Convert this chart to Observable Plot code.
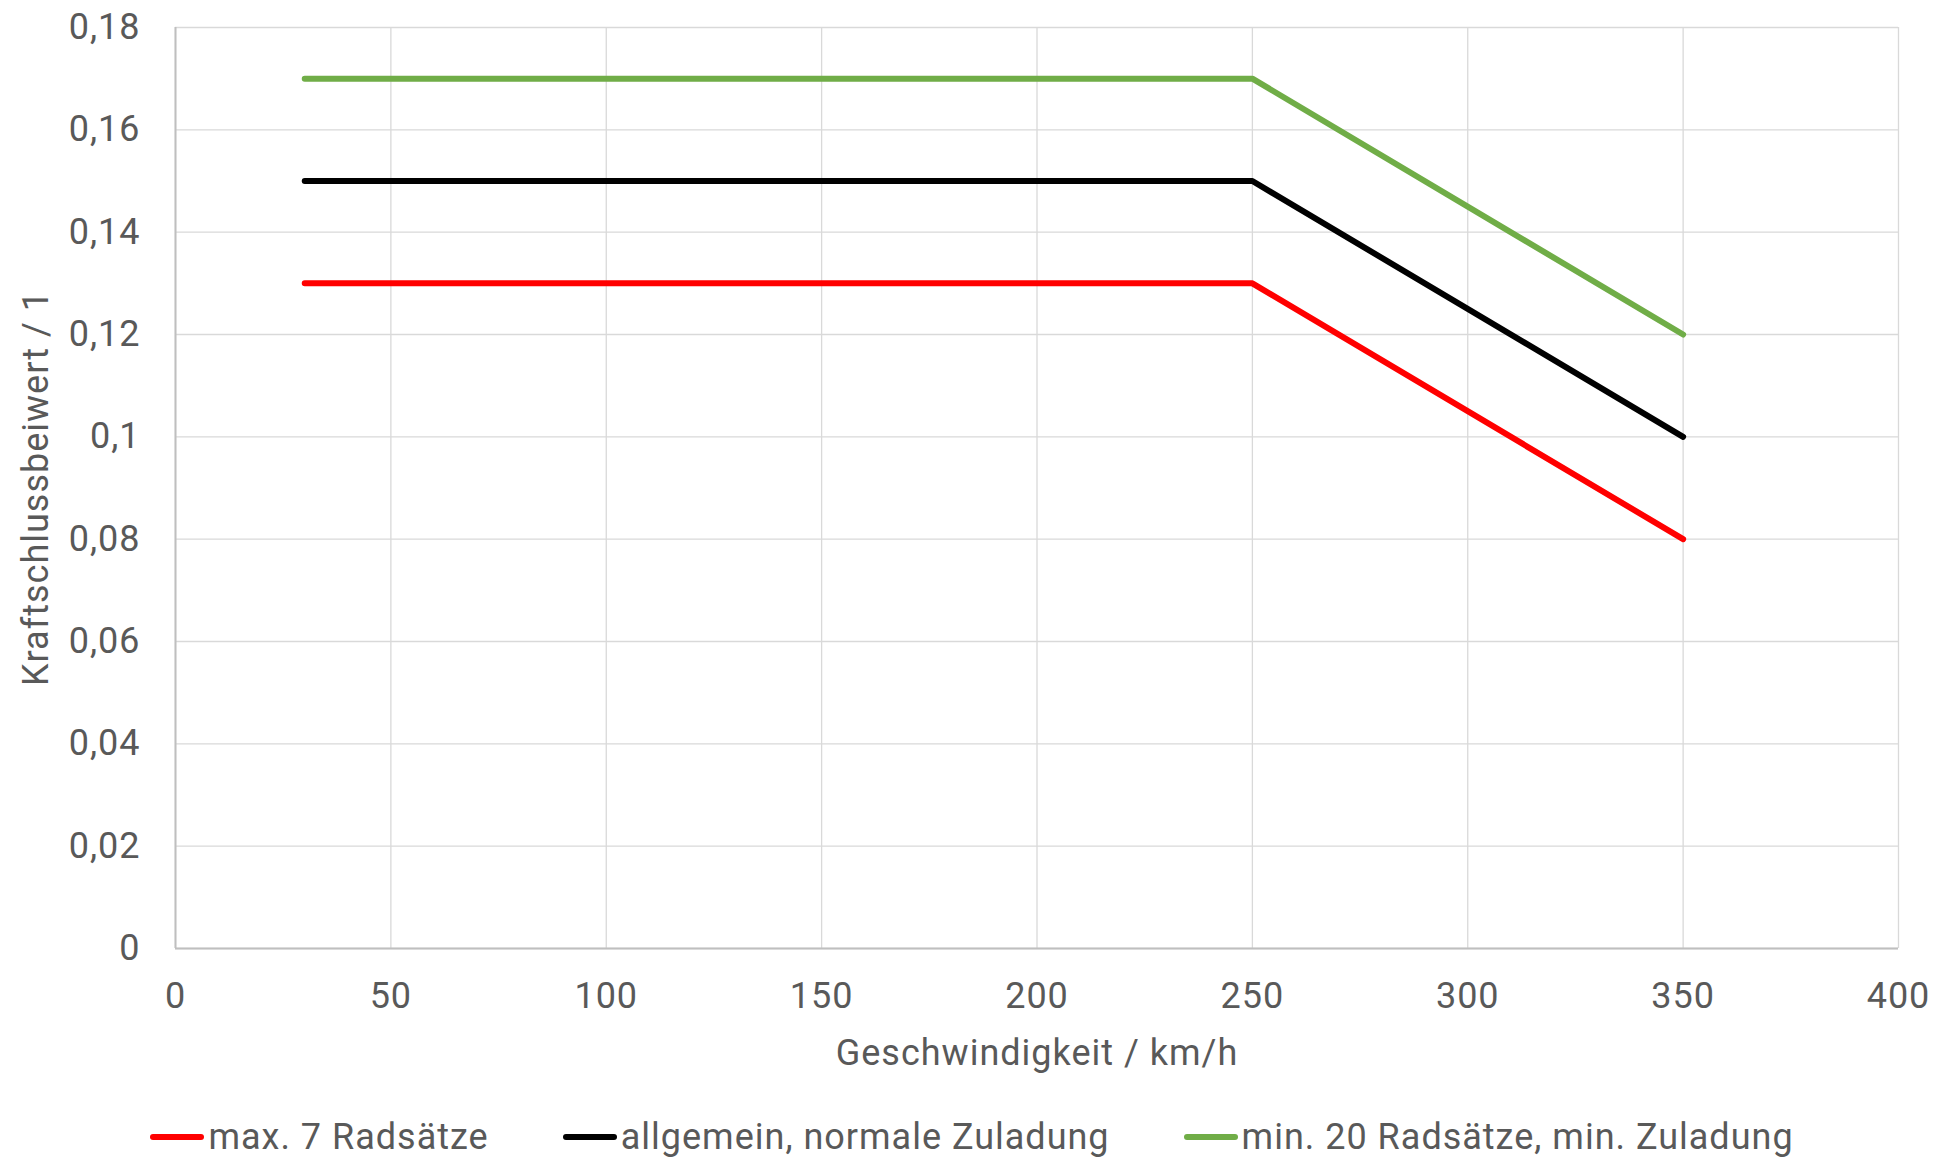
<!DOCTYPE html>
<html>
<head>
<meta charset="utf-8">
<script src="https://cdn.jsdelivr.net/npm/d3@7"></script>
<script src="https://cdn.jsdelivr.net/npm/@observablehq/plot@0.6"></script>
<style>
  html, body { margin: 0; padding: 0; background: #fff; }
  #chart svg { display: block; }
  #legend {
    display: flex; justify-content: center; align-items: center;
    height: 104px; font-family: Roboto, sans-serif; font-weight: 400;
    font-size: 36px; letter-spacing: 1px; color: #595959; gap: 74px;
  }
  .item { display: flex; align-items: center; }
  .sw { display: inline-block; width: 54px; height: 6px; border-radius: 3px; margin-right: 4px; }
</style>
</head>
<body>
<div id="chart"></div>
<div id="legend"></div>
<script>
// Data
const speeds = [30, 250, 350];
const seriesNames = ["max. 7 Radsätze", "allgemein, normale Zuladung", "min. 20 Radsätze, min. Zuladung"];
const max7 = [0.13, 0.13, 0.08];
const allgemein = [0.15, 0.15, 0.10];
const min20 = [0.17, 0.17, 0.12];
const seriesColors = ["#ff0000", "#000000", "#70ad47"];
const xTicks = [0, 50, 100, 150, 200, 250, 300, 350, 400];
const yTicks = [0, 0.02, 0.04, 0.06, 0.08, 0.1, 0.12, 0.14, 0.16, 0.18];
const xLabel = "Geschwindigkeit / km/h";
const yLabel = "Kraftschlussbeiwert / 1";

const seriesValues = [max7, allgemein, min20];
const rows = [];
seriesNames.forEach((name, i) => {
  speeds.forEach((s, j) => rows.push({series: name, x: s, y: seriesValues[i][j]}));
});

const fmtY = d => String(+d.toFixed(2)).replace(".", ",");

const chart = Plot.plot({
  width: 1944,
  height: 1085,
  marginLeft: 175,
  marginRight: 46,
  marginTop: 27,
  marginBottom: 137,
  style: {fontFamily: "Roboto, sans-serif", fontWeight: 400, fontSize: "36px", letterSpacing: "1px", color: "#595959", background: "#fff"},
  x: {domain: [0, 400]},
  y: {domain: [0, 0.18]},
  color: {domain: seriesNames, range: seriesColors},
  marks: [
    Plot.gridX(xTicks, {stroke: "#d9d9d9", strokeOpacity: 1, strokeWidth: 1.3}),
    Plot.gridY(yTicks, {stroke: "#d9d9d9", strokeOpacity: 1, strokeWidth: 1.3}),
    Plot.ruleX([0], {stroke: "#bfbfbf", strokeWidth: 2}),
    Plot.ruleY([0], {stroke: "#bfbfbf", strokeWidth: 2}),
    Plot.axisX(xTicks, {tickSize: 0, tickPadding: 34, label: xLabel, labelAnchor: "center", labelArrow: "none", labelOffset: 116}),
    Plot.axisY(yTicks, {tickSize: 0, tickPadding: 35, tickFormat: fmtY, label: yLabel, labelAnchor: "center", labelArrow: "none", labelOffset: 153}),
    Plot.line(rows, {x: "x", y: "y", z: "series", stroke: "series", strokeWidth: 6, strokeLinecap: "round", strokeLinejoin: "round"})
  ]
});
document.getElementById("chart").appendChild(chart);

const legend = document.getElementById("legend");
seriesNames.forEach((name, i) => {
  const item = document.createElement("div");
  item.className = "item";
  const sw = document.createElement("span");
  sw.className = "sw";
  sw.style.background = seriesColors[i];
  const t = document.createElement("span");
  t.textContent = name;
  item.appendChild(sw);
  item.appendChild(t);
  legend.appendChild(item);
});
</script>
</body>
</html>
